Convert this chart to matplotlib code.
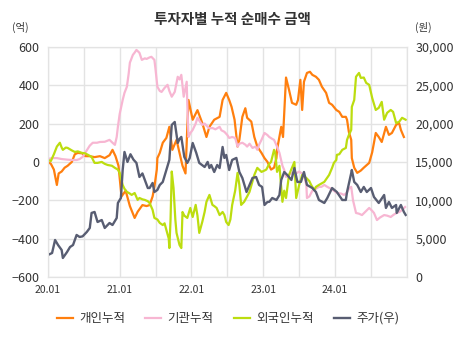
import matplotlib.pyplot as plt
from matplotlib.ticker import FuncFormatter, MultipleLocator

plt.rcParams['font.family'] = ['Noto Sans CJK KR', 'DejaVu Sans']

# months since 2020-01, cumulative net buying (억원) / price (원)
indiv_m = [0.0, 0.5, 1.0, 1.5, 1.8, 2.3, 2.8, 3.3, 4.0, 4.5, 5.0, 5.7, 6.3, 7.0, 7.8, 8.7,
           9.5, 10.3, 10.8, 11.3, 11.8, 12.3, 13.0, 13.7, 14.5, 15.0, 15.8, 16.5, 17.0,
           17.5, 17.8, 18.2, 18.3, 18.7, 19.2, 19.8, 20.3, 20.8, 21.5, 22.0, 22.5, 23.0,
           23.3, 23.5, 24.2, 25.0, 25.8, 26.5, 27.0, 27.8, 28.7, 29.2, 29.8, 30.3, 30.7,
           31.2, 31.7, 32.0, 32.5, 33.0, 33.3, 34.0, 34.5, 35.0, 35.7, 36.2, 36.7, 37.3,
           37.8, 38.2, 38.3, 39.0, 39.3, 39.8, 40.3, 40.8, 41.5, 41.8, 42.2, 42.5, 42.8,
           43.3, 43.8, 44.2, 44.8, 45.3, 45.8, 46.5, 47.0, 47.5, 48.2, 48.7, 49.2, 49.8,
           50.0, 50.3, 50.7, 50.8, 51.2, 51.7, 52.3, 52.8, 53.7, 54.2, 54.5, 54.8, 55.3,
           55.8, 56.5, 57.0, 57.5, 58.2, 58.7, 59.0, 59.5]
indiv = [0, -10, -40, -120, -60, -50, -30, -20, 0, 40, 47, 45, 30, 30, 25, 30,
         20, 35, 63, 30, -20, -180, -150, -230, -292, -260, -225, -230, -225,
         -180, -130, -40, 20, 47, 100, 125, 183, 63, 115, 47, -20, -60,
         180, 323, 220, 270, 203, 130, 183, 220, 235, 323, 360, 323, 287,
         220, 80, 115, 235, 280, 230, 210, 130, 80, 47, 20, 0, -40,
         -30, 20, 63, 183, 130, 440, 376, 308, 298, 323, 428, 271, 418,
         464, 470, 454, 444, 428, 392, 360, 308, 298, 271, 261, 235, 235,
         220, 157, 115, 20, -30, -57, -45, -30, -5, 50, 100, 151, 130,
         104, 183, 141, 151, 193, 203, 167, 130]

inst_m = [0.0, 0.7, 1.5, 2.3, 3.2, 4.0, 4.8, 5.3, 5.8, 6.5, 7.0, 7.5, 8.2, 8.7, 9.5, 10.3,
          10.8, 11.2, 11.5, 11.7, 12.0, 12.5, 12.8, 13.2, 13.5, 13.7, 14.2, 14.5, 14.8,
          15.3, 15.7, 16.2, 16.5, 17.0, 17.3, 17.8, 18.0, 18.3, 18.7, 19.0, 19.5, 20.0,
          20.3, 20.7, 21.2, 21.7, 22.0, 22.3, 22.7, 23.2, 23.3, 23.5, 23.8, 24.2, 24.7,
          25.0, 25.3, 25.8, 26.2, 26.7, 27.0, 27.5, 28.0, 28.7, 29.0, 29.5, 30.0, 30.3,
          30.8, 31.3, 31.7, 32.0, 32.5, 33.0, 33.3, 33.7, 34.2, 34.7, 35.0, 35.3, 35.7,
          36.2, 36.7, 37.0, 37.5, 37.8, 38.3, 38.7, 39.2, 39.5, 39.8, 40.3, 40.8, 41.5,
          42.0, 42.3, 42.8, 43.2, 43.3, 43.7, 44.2, 44.5, 44.8, 45.3, 45.7, 46.2, 46.7,
          47.3, 47.8, 48.3, 49.0, 49.5, 50.0, 50.3, 50.7, 51.0, 51.5, 52.0, 52.5, 53.2,
          53.7, 54.2, 54.5, 55.0, 55.5, 56.2, 56.7, 57.3, 57.8, 58.3, 58.8, 59.2, 59.7]
inst = [15, 20, 20, 15, 12, 10, 10, 15, 26, 60, 85, 100, 100, 104, 105, 115,
        100, 89, 130, 183, 250, 323, 360, 392, 460, 517, 558, 570, 584,
        569, 532, 540, 537, 545, 548, 532, 480, 392, 370, 365, 386, 402,
        370, 340, 365, 444, 430, 454, 340, 418, 300, 130, 150, 167, 200,
        230, 215, 193, 200, 183, 175, 177, 170, 183, 165, 157, 140, 125,
        130, 125, 80, 95, 100, 90, 80, 95, 73, 80, 63, 90, 115,
        151, 140, 130, 120, 115, 80, 47, -20, -42, -78, -68, -57, -60,
        -50, -57, -68, -120, -188, -180, -150, -146, -140, -130, -130, -120, -130,
        -140, -150, -162, -165, -172, -160, -140, -130, -200, -266, -270, -277, -255,
        -240, -255, -266, -303, -290, -277, -280, -287, -275, -266, -260, -250, -235]

frgn_m = [0.0, 0.5, 1.0, 1.5, 2.0, 2.3, 2.5, 3.0, 3.3, 4.0, 4.5, 5.0, 5.7, 6.2, 6.7, 7.3,
          7.8, 8.3, 9.0, 9.5, 10.0, 10.7, 11.2, 11.7, 12.0, 12.5, 12.8, 13.2, 13.7, 14.0,
          14.5, 15.0, 15.3, 15.8, 16.2, 16.7, 17.0, 17.5, 17.8, 18.3, 18.7, 19.2, 19.5,
          19.8, 20.2, 20.3, 20.5, 20.7, 21.0, 21.3, 21.5, 22.0, 22.3, 22.5, 22.8, 23.3,
          23.8, 24.2, 24.7, 25.0, 25.3, 25.8, 26.2, 26.5, 27.0, 27.5, 27.8, 28.2, 28.7,
          29.2, 29.5, 29.8, 30.2, 30.5, 30.8, 31.3, 31.7, 32.0, 32.3, 32.8, 33.3, 33.7,
          34.2, 34.5, 35.0, 35.3, 35.7, 36.2, 36.5, 37.0, 37.3, 37.8, 38.0, 38.3, 38.7,
          39.0, 39.2, 39.5, 39.8, 40.3, 40.8, 41.2, 41.5, 42.0, 42.5, 43.2, 43.7, 44.0,
          44.5, 44.8, 45.3, 46.2, 47.0, 47.5, 47.8, 48.2, 48.3, 48.7, 49.2, 49.8, 50.0,
          50.3, 50.7, 50.8, 51.2, 51.5, 52.0, 52.3, 52.8, 53.2, 53.7, 54.2, 54.8, 55.3,
          55.8, 56.2, 56.7, 57.3, 57.7, 58.2, 58.7, 59.2, 59.8]
frgn = [10, 5, 40, 80, 100, 75, 63, 75, 73, 60, 52, 55, 47, 45, 37, 26,
        -5, -5, 0, -10, -16, -20, -31, -40, -57, -120, -140, -156, -165, -172,
        -162, -198, -188, -195, -198, -205, -214, -250, -292, -300, -318, -329, -320,
        -355, -400, -449, -300, -50, -136, -300, -370, -433, -449, -261, -280, -292,
        -240, -287, -224, -280, -370, -313, -260, -208, -172, -224, -230, -240, -277,
        -261, -277, -313, -329, -300, -224, -150, -57, -120, -224, -208, -180, -156,
        -100, -68, -31, -40, -52, -45, -40, -10, 0, 63, 47, -52, -20,
        -136, -208, -150, -188, -68, -30, 0, -188, -120, -68, -84, -100, -120,
        -146, -130, -120, -104, -68, -31, -5, 10, 37, 40, 63, 73, 115,
        140, 167, 287, 323, 444, 464, 438, 440, 412, 402, 334, 271, 282,
        313, 220, 256, 271, 261, 203, 209, 230, 220]

price_m = [0.0, 0.7, 1.2, 1.7, 2.3, 2.5, 3.2, 3.7, 4.2, 4.8, 5.3, 5.8, 6.5, 7.0, 7.3,
           7.8, 8.3, 9.0, 9.5, 10.3, 10.8, 11.5, 11.7, 12.2, 12.5, 12.8, 13.3, 13.8,
           14.3, 14.8, 15.3, 15.8, 16.7, 17.0, 17.5, 17.8, 18.3, 18.7, 19.2, 19.8, 20.3,
           20.7, 21.2, 21.7, 22.0, 22.3, 22.8, 23.3, 23.7, 24.2, 24.8, 25.3, 26.2, 26.7,
           27.0, 27.3, 27.8, 28.3, 28.7, 29.2, 29.5, 29.8, 30.3, 30.8, 31.5, 32.0, 32.5,
           33.2, 33.7, 34.2, 34.8, 35.3, 35.8, 36.2, 36.7, 37.0, 37.5, 38.2, 38.7, 39.0,
           39.5, 40.0, 40.7, 41.2, 41.7, 42.3, 42.8, 43.3, 44.2, 44.8, 45.3, 46.2, 46.7,
           47.5, 48.3, 49.2, 49.8, 50.0, 50.7, 50.8, 51.2, 51.7, 52.3, 52.8, 53.3, 54.0,
           54.5, 55.3, 56.2, 56.5, 57.0, 57.5, 58.2, 58.3, 59.0, 59.5, 59.8]
price = [2870, 3130, 4825, 4170, 3520, 2480, 3260, 3910, 4170, 5480, 5220, 5300, 5870,
         6390, 8350, 8480, 7170, 7430, 6390, 7040, 6780, 7690, 9650, 10300, 13950, 16300,
         15000, 16000, 15300, 14870, 13040, 13500, 11600, 11600, 12260, 11080, 11350,
         12000, 12390, 13950, 15260, 19820, 20210, 17470, 18000, 18260, 15650, 14870,
         15500, 17470, 16170, 14870, 14340, 15000, 14210, 14600, 13690, 14600, 14200,
         16950, 15520, 15910, 13950, 15260, 15520, 13690, 12910, 11080, 12000, 12910,
         13040, 12000, 11740, 9390, 9780, 9800, 10300, 10040, 10690, 12650, 13690, 13300,
         12650, 14210, 12390, 12400, 13690, 12000, 11600, 11080, 10040, 9650, 10300,
         11600, 11080, 10040, 10040, 11080, 13560, 13950, 12390, 12000, 11080, 11740,
         11080, 11600, 10430, 9650, 10690, 9000, 9780, 9000, 9390, 8350, 9390, 8480, 8090]

year_labels = ['20.01', '21.01', '22.01', '23.01', '24.01']

fig, ax = plt.subplots(figsize=(4.65, 3.37), dpi=100)
fig.subplots_adjust(left=0.103, right=0.875, bottom=0.178, top=0.861)
ax2 = ax.twinx()

l1, = ax.plot(indiv_m, indiv, color='#ff7f0e', lw=1.6, label='개인누적')
l2, = ax.plot(inst_m, inst, color='#f7b6d2', lw=1.6, label='기관누적')
l3, = ax.plot(frgn_m, frgn, color='#bcdd0f', lw=1.6, label='외국인누적')
l4, = ax2.plot(price_m, price, color='#585d72', lw=1.7, label='주가(우)')

ax.set_xlim(0, 60)
ax.set_ylim(-600, 600)
ax2.set_ylim(0, 30000)
ax.set_xticks([0, 12, 24, 36, 48])
ax.set_xticklabels(year_labels)
ax.xaxis.set_minor_locator(MultipleLocator(6))
ax.set_yticks(range(-600, 601, 200))
ax2.set_yticks(range(0, 30001, 5000))
ax2.yaxis.set_major_formatter(FuncFormatter(lambda v, p: f'{int(v):,}'))

ax.grid(True, which='both', color='#e3e3e3', lw=1.0)
ax.set_axisbelow(True)
for a in (ax, ax2):
    for s in a.spines.values():
        s.set_color('#e3e3e3')
    a.tick_params(length=0, colors='#333333')
ax.tick_params(axis='y', labelsize=9, pad=6)
ax2.tick_params(axis='y', labelsize=9, pad=6)
ax.tick_params(axis='x', which='both', labelsize=7.5, pad=6, length=0)

fig.text(0.5, 0.945, '투자자별 누적 순매수 금액', ha='center', va='center',
         fontsize=10.5, fontweight='bold', color='#333333')
fig.text(0.043, 0.92, '(억)', ha='center', va='center', fontsize=7.5, color='#333333')
fig.text(0.91, 0.92, '(원)', ha='center', va='center', fontsize=7.5, color='#333333')

fig.legend(handles=[l1, l2, l3, l4], loc='center', bbox_to_anchor=(0.49, 0.055),
           ncol=4, frameon=False, fontsize=9, handlelength=1.3, columnspacing=1.6,
           handletextpad=0.5, labelcolor='#333333')

plt.savefig('out.png', dpi=100)
